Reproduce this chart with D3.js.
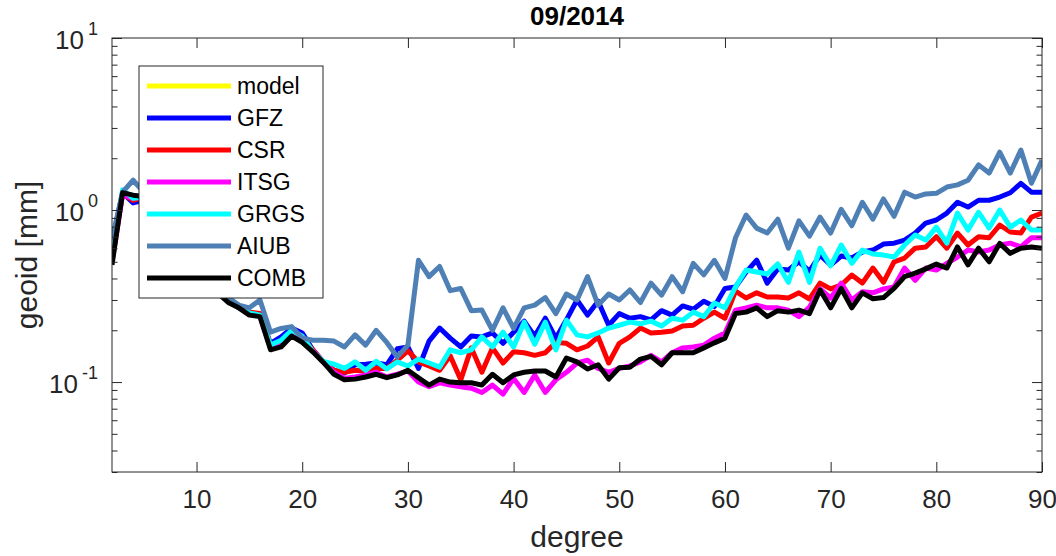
<!DOCTYPE html>
<html>
<head>
<meta charset="utf-8">
<script src="https://cdn.jsdelivr.net/npm/d3@7"></script>
<style>
  body { margin: 0; background: #fff; }
  text { font-family: "Liberation Sans", Arial, Helvetica, sans-serif; fill: #262626; }
</style>
</head>
<body>
<svg id="chart" width="1056" height="556"></svg>
<script>
// spherical harmonic degree 2..90
const degrees = d3.range(2, 91);
const xTicks = [10, 20, 30, 40, 50, 60, 70, 80, 90];
const yMajor = [0.1, 1, 10];
const yMinor = [0.03, 0.04, 0.05, 0.06, 0.07, 0.08, 0.09, 0.2, 0.3, 0.4, 0.5, 0.6, 0.7, 0.8, 0.9, 2, 3, 4, 5, 6, 7, 8, 9];

// model curve is not visible in the figure
const model = [];
const gfz = [0.65, 1.26, 1.10, 1.14, 1.04, 0.875, 0.716, 0.585, 0.48, 0.39,
  0.335, 0.30, 0.277, 0.255, 0.245, 0.168, 0.183, 0.206, 0.193, 0.154,
  0.131, 0.117, 0.113, 0.126, 0.127, 0.129, 0.126, 0.156, 0.16, 0.12,
  0.173, 0.206, 0.18, 0.16, 0.185, 0.183, 0.193, 0.168, 0.195, 0.226,
  0.185, 0.235, 0.18, 0.23, 0.30, 0.245, 0.295, 0.214, 0.25, 0.235,
  0.24, 0.23, 0.26, 0.245, 0.277, 0.265, 0.295, 0.275, 0.35, 0.357,
  0.436, 0.512, 0.376, 0.454, 0.448, 0.50, 0.442, 0.547, 0.479, 0.54,
  0.526, 0.57, 0.585, 0.634, 0.642, 0.669, 0.735, 0.84, 0.875, 0.96,
  1.11, 1.04, 1.14, 1.14, 1.19, 1.26, 1.43, 1.27, 1.27];
const csr = [0.526, 1.24, 1.14, 1.19, 1.05, 0.886, 0.725, 0.593, 0.486, 0.39,
  0.335, 0.30, 0.277, 0.255, 0.25, 0.164, 0.17, 0.195, 0.18, 0.154,
  0.131, 0.117, 0.114, 0.117, 0.116, 0.12, 0.12, 0.134, 0.152, 0.131,
  0.124, 0.117, 0.142, 0.103, 0.158, 0.114, 0.158, 0.129, 0.15, 0.148,
  0.143, 0.148, 0.17, 0.168, 0.154, 0.162, 0.183, 0.129, 0.168, 0.183,
  0.206, 0.193, 0.195, 0.198, 0.212, 0.214, 0.235, 0.255, 0.235, 0.338,
  0.308, 0.33, 0.312, 0.312, 0.308, 0.33, 0.304, 0.376, 0.348, 0.366,
  0.419, 0.376, 0.46, 0.38, 0.50, 0.526, 0.60, 0.61, 0.70, 0.60,
  0.735, 0.626, 0.70, 0.69, 0.818, 0.745, 0.735, 0.91, 0.96];
const itsg = [0.50, 1.22, 1.17, 1.19, 1.05, 0.886, 0.735, 0.593, 0.49, 0.39,
  0.335, 0.296, 0.27, 0.25, 0.242, 0.158, 0.162, 0.188, 0.173, 0.152,
  0.131, 0.114, 0.105, 0.107, 0.11, 0.114, 0.107, 0.111, 0.116, 0.10,
  0.094, 0.099, 0.096, 0.094, 0.092, 0.087, 0.096, 0.085, 0.105, 0.087,
  0.11, 0.087, 0.103, 0.114, 0.129, 0.134, 0.12, 0.114, 0.12, 0.124,
  0.131, 0.143, 0.131, 0.148, 0.158, 0.16, 0.164, 0.18, 0.193, 0.262,
  0.27, 0.28, 0.27, 0.27, 0.262, 0.24, 0.273, 0.348, 0.308, 0.376,
  0.30, 0.335, 0.33, 0.348, 0.357, 0.46, 0.39, 0.46, 0.448, 0.49,
  0.533, 0.585, 0.57, 0.585, 0.626, 0.642, 0.61, 0.69, 0.69];
const grgs = [0.547, 1.31, 1.17, 1.19, 1.05, 0.886, 0.725, 0.593, 0.486, 0.39,
  0.335, 0.30, 0.27, 0.252, 0.245, 0.164, 0.175, 0.20, 0.185, 0.15,
  0.132, 0.127, 0.12, 0.131, 0.117, 0.132, 0.119, 0.131, 0.124, 0.136,
  0.129, 0.122, 0.154, 0.148, 0.154, 0.183, 0.16, 0.195, 0.16, 0.223,
  0.166, 0.223, 0.154, 0.229, 0.188, 0.183, 0.193, 0.206, 0.214, 0.223,
  0.218, 0.226, 0.212, 0.235, 0.229, 0.255, 0.24, 0.288, 0.27, 0.357,
  0.448, 0.436, 0.425, 0.486, 0.38, 0.57, 0.38, 0.60, 0.473, 0.626,
  0.49, 0.585, 0.555, 0.547, 0.533, 0.626, 0.716, 0.669, 0.796, 0.642,
  0.96, 0.765, 0.97, 0.786, 1.00, 0.796, 0.875, 0.765, 0.765];
const aiub = [0.67, 1.27, 1.49, 1.27, 1.14, 0.935, 0.745, 0.585, 0.48, 0.39,
  0.335, 0.31, 0.28, 0.27, 0.30, 0.195, 0.205, 0.21, 0.18, 0.175,
  0.175, 0.173, 0.16, 0.188, 0.164, 0.20, 0.17, 0.14, 0.164, 0.51,
  0.41, 0.47, 0.34, 0.35, 0.26, 0.262, 0.20, 0.27, 0.205, 0.27,
  0.28, 0.31, 0.25, 0.325, 0.30, 0.41, 0.28, 0.325, 0.30, 0.343,
  0.29, 0.376, 0.32, 0.41, 0.335, 0.49, 0.42, 0.51, 0.40, 0.69,
  0.935, 0.785, 0.735, 0.885, 0.60, 0.865, 0.705, 0.91, 0.735, 1.01,
  0.81, 1.11, 0.885, 1.16, 0.92, 1.27, 1.19, 1.24, 1.25, 1.36,
  1.40, 1.49, 1.83, 1.64, 2.17, 1.64, 2.23, 1.43, 1.95];
const comb = [0.48, 1.26, 1.22, 1.20, 1.07, 0.90, 0.745, 0.60, 0.50, 0.39,
  0.33, 0.29, 0.27, 0.245, 0.24, 0.154, 0.16, 0.185, 0.17, 0.15,
  0.13, 0.111, 0.103, 0.104, 0.107, 0.111, 0.106, 0.11, 0.117, 0.106,
  0.096, 0.104, 0.10, 0.099, 0.099, 0.096, 0.111, 0.099, 0.11, 0.114,
  0.116, 0.116, 0.107, 0.138, 0.131, 0.119, 0.126, 0.104, 0.121, 0.122,
  0.136, 0.141, 0.126, 0.148, 0.148, 0.148, 0.158, 0.169, 0.18, 0.25,
  0.255, 0.27, 0.24, 0.26, 0.255, 0.262, 0.25, 0.343, 0.27, 0.35,
  0.27, 0.33, 0.305, 0.31, 0.35, 0.41, 0.43, 0.455, 0.485, 0.46,
  0.61, 0.48, 0.60, 0.50, 0.64, 0.56, 0.60, 0.61, 0.60];

const seriesNames = ["model", "GFZ", "CSR", "ITSG", "GRGS", "AIUB", "COMB"];
const seriesColors = ["#ffff00", "#0000ff", "#ff0000", "#ff00ff", "#00ffff", "#4f80b5", "#000000"];
const seriesValues = [model, gfz, csr, itsg, grgs, aiub, comb];

const plot = { left: 112, right: 1042, top: 38, bottom: 472 };
const axisColor = "#262626";

const svg = d3.select("#chart");

const x = d3.scaleLinear().domain([2, 90]).range([plot.left, plot.right]);
const y = d3.scaleLog().domain([0.03, 10]).range([plot.bottom, plot.top]);

// clip so lines stay in the axes box
svg.append("defs").append("clipPath").attr("id", "clip")
  .append("rect")
  .attr("x", plot.left).attr("y", plot.top)
  .attr("width", plot.right - plot.left).attr("height", plot.bottom - plot.top);

// data lines
const line = d3.line()
  .x((d, i) => x(degrees[i]))
  .y(d => y(d));

const lines = svg.append("g").attr("clip-path", "url(#clip)");
seriesValues.forEach((vals, k) => {
  if (!vals.length) return;
  lines.append("path")
    .datum(vals)
    .attr("d", line)
    .attr("fill", "none")
    .attr("stroke", seriesColors[k])
    .attr("stroke-width", 5)
    .attr("stroke-linejoin", "round");
});

// axes: ticks point inward on all four sides
const styleAxis = g => {
  g.select(".domain").remove();
  g.selectAll(".tick line").attr("stroke", axisColor).attr("stroke-width", 1);
};

svg.append("g")
  .attr("transform", `translate(0,${plot.bottom})`)
  .call(d3.axisBottom(x).tickValues(xTicks).tickSize(-10).tickPadding(18).tickFormat(d3.format("d")))
  .call(styleAxis)
  .call(g => g.selectAll(".tick text")
    .attr("font-size", 26).attr("fill", axisColor).style("font-family", "'Liberation Sans', Arial, sans-serif"));

svg.append("g")
  .attr("transform", `translate(0,${plot.top})`)
  .call(d3.axisTop(x).tickValues(xTicks).tickSize(-10).tickFormat(""))
  .call(styleAxis);

[[d3.axisLeft, plot.left], [d3.axisRight, plot.right]].forEach(([mk, px]) => {
  svg.append("g")
    .attr("transform", `translate(${px},0)`)
    .call(mk(y).tickValues(yMajor).tickSize(-10).tickFormat(""))
    .call(styleAxis);
  svg.append("g")
    .attr("transform", `translate(${px},0)`)
    .call(mk(y).tickValues(yMinor).tickSize(-5.5).tickFormat(""))
    .call(styleAxis);
});

// y tick labels as 10^n
const yLab = svg.append("g");
yMajor.forEach(v => {
  const t = yLab.append("text")
    .attr("x", 98)
    .attr("y", y(v) + 11)
    .attr("text-anchor", "end")
    .attr("font-size", 26);
  t.append("tspan").text("10");
  t.append("tspan")
    .attr("dx", 4).attr("dy", -14)
    .attr("font-size", 18)
    .text(Math.round(Math.log10(v)));
});

// axes box
svg.append("rect")
  .attr("x", plot.left).attr("y", plot.top)
  .attr("width", plot.right - plot.left).attr("height", plot.bottom - plot.top)
  .attr("fill", "none").attr("stroke", axisColor).attr("stroke-width", 1);

// title and axis labels
svg.append("text")
  .attr("x", (plot.left + plot.right) / 2).attr("y", 25)
  .attr("text-anchor", "middle")
  .attr("font-size", 26).attr("font-weight", "bold")
  .style("fill", "#000")
  .text("09/2014");

svg.append("text")
  .attr("x", (plot.left + plot.right) / 2).attr("y", 547)
  .attr("text-anchor", "middle")
  .attr("font-size", 30)
  .text("degree");

svg.append("text")
  .attr("transform", `translate(37,${(plot.top + plot.bottom) / 2}) rotate(-90)`)
  .attr("text-anchor", "middle")
  .attr("font-size", 30)
  .text("geoid [mm]");

// legend
const leg = svg.append("g");
leg.append("rect")
  .attr("x", 139).attr("y", 66).attr("width", 184).attr("height", 232)
  .attr("fill", "#fff").attr("stroke", axisColor).attr("stroke-width", 1);

seriesNames.forEach((name, k) => {
  const ly = 86 + k * 32;
  leg.append("line")
    .attr("x1", 147).attr("x2", 231).attr("y1", ly).attr("y2", ly)
    .attr("stroke", seriesColors[k]).attr("stroke-width", 5);
  leg.append("text")
    .attr("x", 237).attr("y", ly + 8)
    .attr("font-size", 23)
    .style("fill", "#000")
    .text(name);
});
</script>
</body>
</html>
